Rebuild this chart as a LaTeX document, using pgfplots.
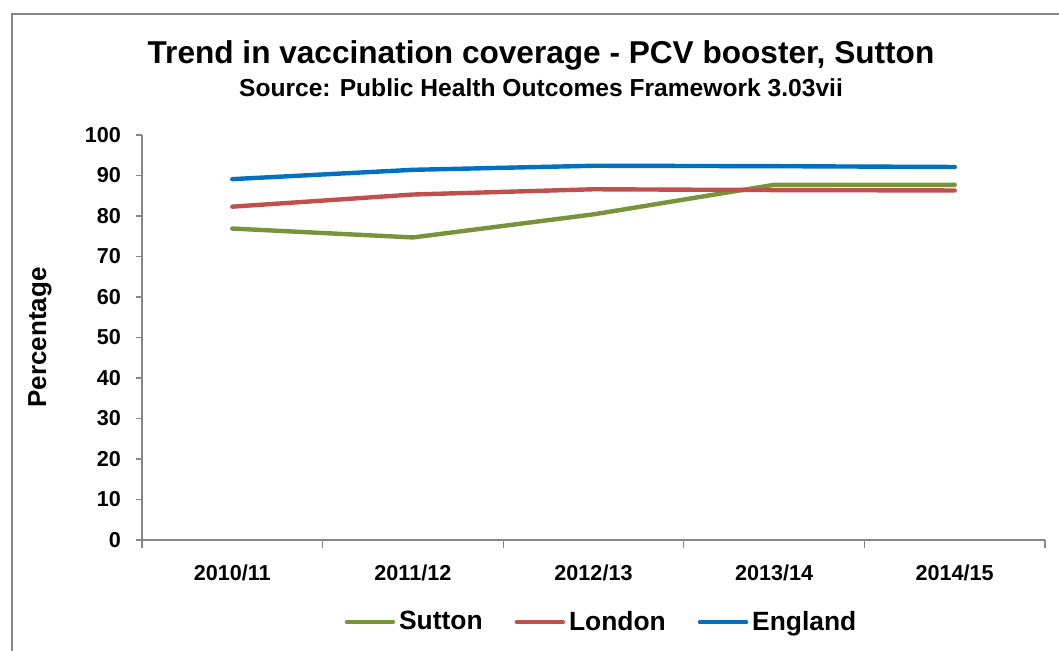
\documentclass[border=0pt]{standalone}
\usepackage{pgfplots}
\pgfplotsset{compat=1.18}
\usepackage{fontspec}
\setmainfont{Liberation Sans}
\definecolor{sutton}{HTML}{77933C}
\definecolor{london}{HTML}{C0504D}
\definecolor{england}{HTML}{0070C0}
\definecolor{axgray}{HTML}{868686}
\begin{document}
\begin{tikzpicture}[x=1pt,y=1pt]
\draw[axgray,line width=0.8pt] (6,0) -- (6,318.5) -- (529.5,318.5);
\node[font=\bfseries\fontsize{15.8}{17}\selectfont] at (270.5,298) {Trend in vaccination coverage - PCV booster, Sutton};
\node[font=\bfseries\fontsize{12.3}{14}\selectfont] at (270.5,281.5) {Source: Public Health Outcomes Framework 3.03vii};
\begin{axis}[
  at={(71pt,55.5pt)}, anchor=south west,
  scale only axis, width=451.5pt, height=202.5pt,
  xmin=-0.5, xmax=4.5, ymin=0, ymax=100,
  axis x line=bottom, axis y line=left,
  axis line style={axgray,line width=0.6pt,-},
  xtick={0,1,2,3,4},
  xticklabels={2010/11,2011/12,2012/13,2013/14,2014/15},
  minor xtick={-0.5,0.5,1.5,2.5,3.5,4.5},
  major x tick style={draw=none},
  minor x tick style={axgray,line width=0.6pt},
  minor tick length=4pt,
  ytick={0,10,...,100},
  y tick style={axgray,line width=0.6pt},
  major tick length=3pt,
  tick align=outside,
  every tick label/.append style={font=\bfseries\fontsize{10.8}{12}\selectfont},
  /pgf/number format/assume math mode=true,
  xticklabel style={yshift=-6pt},
  yticklabel style={xshift=-4pt},
  ylabel={Percentage},
  ylabel style={font=\bfseries\fontsize{13}{15}\selectfont,
    at={(axis description cs:0,0.5)}, anchor=center, yshift=51pt},
  legend columns=3,
  legend style={at={(0.51,-0.203)}, anchor=center, draw=none, fill=none,
    font=\bfseries\fontsize{13.2}{15}\selectfont,
    /tikz/every even column/.append style={column sep=14pt}},
  legend image code/.code={\draw[#1,line cap=round] (0pt,0pt) -- (23pt,0pt);},
]
\addplot[sutton, line width=2.2pt, line cap=round] coordinates {(0,76.9) (1,74.7) (2,80.4) (3,87.7) (4,87.7)};
\addlegendentry{Sutton}
\addplot[london, line width=2.2pt, line cap=round] coordinates {(0,82.3) (1,85.3) (2,86.6) (3,86.4) (4,86.3)};
\addlegendentry{London}
\addplot[england, line width=2.2pt, line cap=round] coordinates {(0,89.1) (1,91.4) (2,92.4) (3,92.3) (4,92.1)};
\addlegendentry{England}
\end{axis}
\pgfresetboundingbox
\useasboundingbox (0,0) rectangle (529.5,325.5);
\end{tikzpicture}
\end{document}
